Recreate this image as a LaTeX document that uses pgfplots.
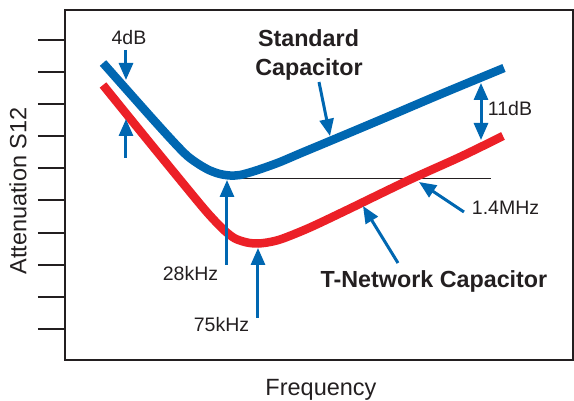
\documentclass[border=0pt]{standalone}
\usepackage{pgfplots}
\pgfplotsset{compat=1.18}
\usepackage{fontspec}
\setmainfont{Liberation Sans}
\usetikzlibrary{arrows.meta}
\definecolor{cblue}{RGB}{0,103,177}
\definecolor{cred}{RGB}{236,32,39}
\definecolor{cax}{RGB}{35,31,32}
\tikzset{
 arr/.style={cblue, line width=3pt, -{Triangle[length=17pt,width=14pt]}},
 dbl/.style={cblue, line width=3pt, {Triangle[length=17pt,width=14pt]}-{Triangle[length=17pt,width=14pt]}},
 ann/.style={font=\fontsize{19.5}{23}\selectfont, text=cax, inner sep=0pt, anchor=base},
 bld/.style={font=\fontsize{23.3}{28}\selectfont\bfseries, text=cax, inner sep=0pt, anchor=base},
 lab/.style={font=\fontsize{23.5}{28}\selectfont, text=cax, inner sep=0pt, anchor=base},
}
\begin{document}
\begin{tikzpicture}
\begin{axis}[
 scale only axis, width=508pt, height=350pt,
 xmin=65,xmax=573,ymin=10,ymax=360, y dir=reverse,
 clip=false,
 axis line style={line width=2pt,cax},
 xtick=\empty,
 ytick={40,72.1,104.2,136.3,168.4,200.5,232.6,264.7,296.8,328.9},
 yticklabels={},
 ytick pos=left, tick align=outside, major tick length=27pt,
 major tick style={line width=2pt,cax},
]
\path (axis cs:0,0) (axis cs:574,401);
\addplot[draw=cax, line width=1.6pt] coordinates {(228,178.5) (491,178.5)};
\addplot[cblue, line width=8.5pt, smooth] coordinates {
(103,63) (150,116) (175,143.5) (188,156.5) (200,165) (210,170.5) (220,174) (230,175.5) (240,175) (253,171.5) (265,167.5) (280,162) (300,153.5) (330,141) (380,120) (440,94.5) (504,68)};
\addplot[cred, line width=8.5pt, smooth] coordinates {
(103,85) (150,143) (200,204) (215,221) (225,231) (235,238.5) (247,242.5) (258,243.5) (270,242) (283,238.5) (310,227.5) (347,210) (408,180.5) (460,157) (503,136)};
% annotation arrows
\draw[arr] (axis cs:126,50) -- (axis cs:126,80);
\draw[arr] (axis cs:126,158) -- (axis cs:126,119);
\draw[arr] (axis cs:227,265) -- (axis cs:227,180);
\draw[arr] (axis cs:258,318) -- (axis cs:258,248);
\draw[arr] (axis cs:319,82) -- (axis cs:330,136);
\draw[arr] (axis cs:398,263) -- (axis cs:363,206);
\draw[arr] (axis cs:464,212) -- (axis cs:419,182);
\draw[dbl] (axis cs:481,83) -- (axis cs:481,140);
% texts
\node[ann] at (axis cs:129,45) {4dB};
\node[ann] at (axis cs:510,116) {11dB};
\node[ann] at (axis cs:505.5,215) {1.4MHz};
\node[ann] at (axis cs:190.5,281) {28kHz};
\node[ann] at (axis cs:221.5,331) {75kHz};
\node[bld] at (axis cs:308.5,47) {Standard};
\node[bld] at (axis cs:309,76) {Capacitor};
\node[bld] at (axis cs:434,288) {T-Network Capacitor};
\node[lab] at (axis cs:321,395) {Frequency};
\node[lab, rotate=90] at (axis cs:26.5,191) {Attenuation S12};
\end{axis}
\end{tikzpicture}
\end{document}
